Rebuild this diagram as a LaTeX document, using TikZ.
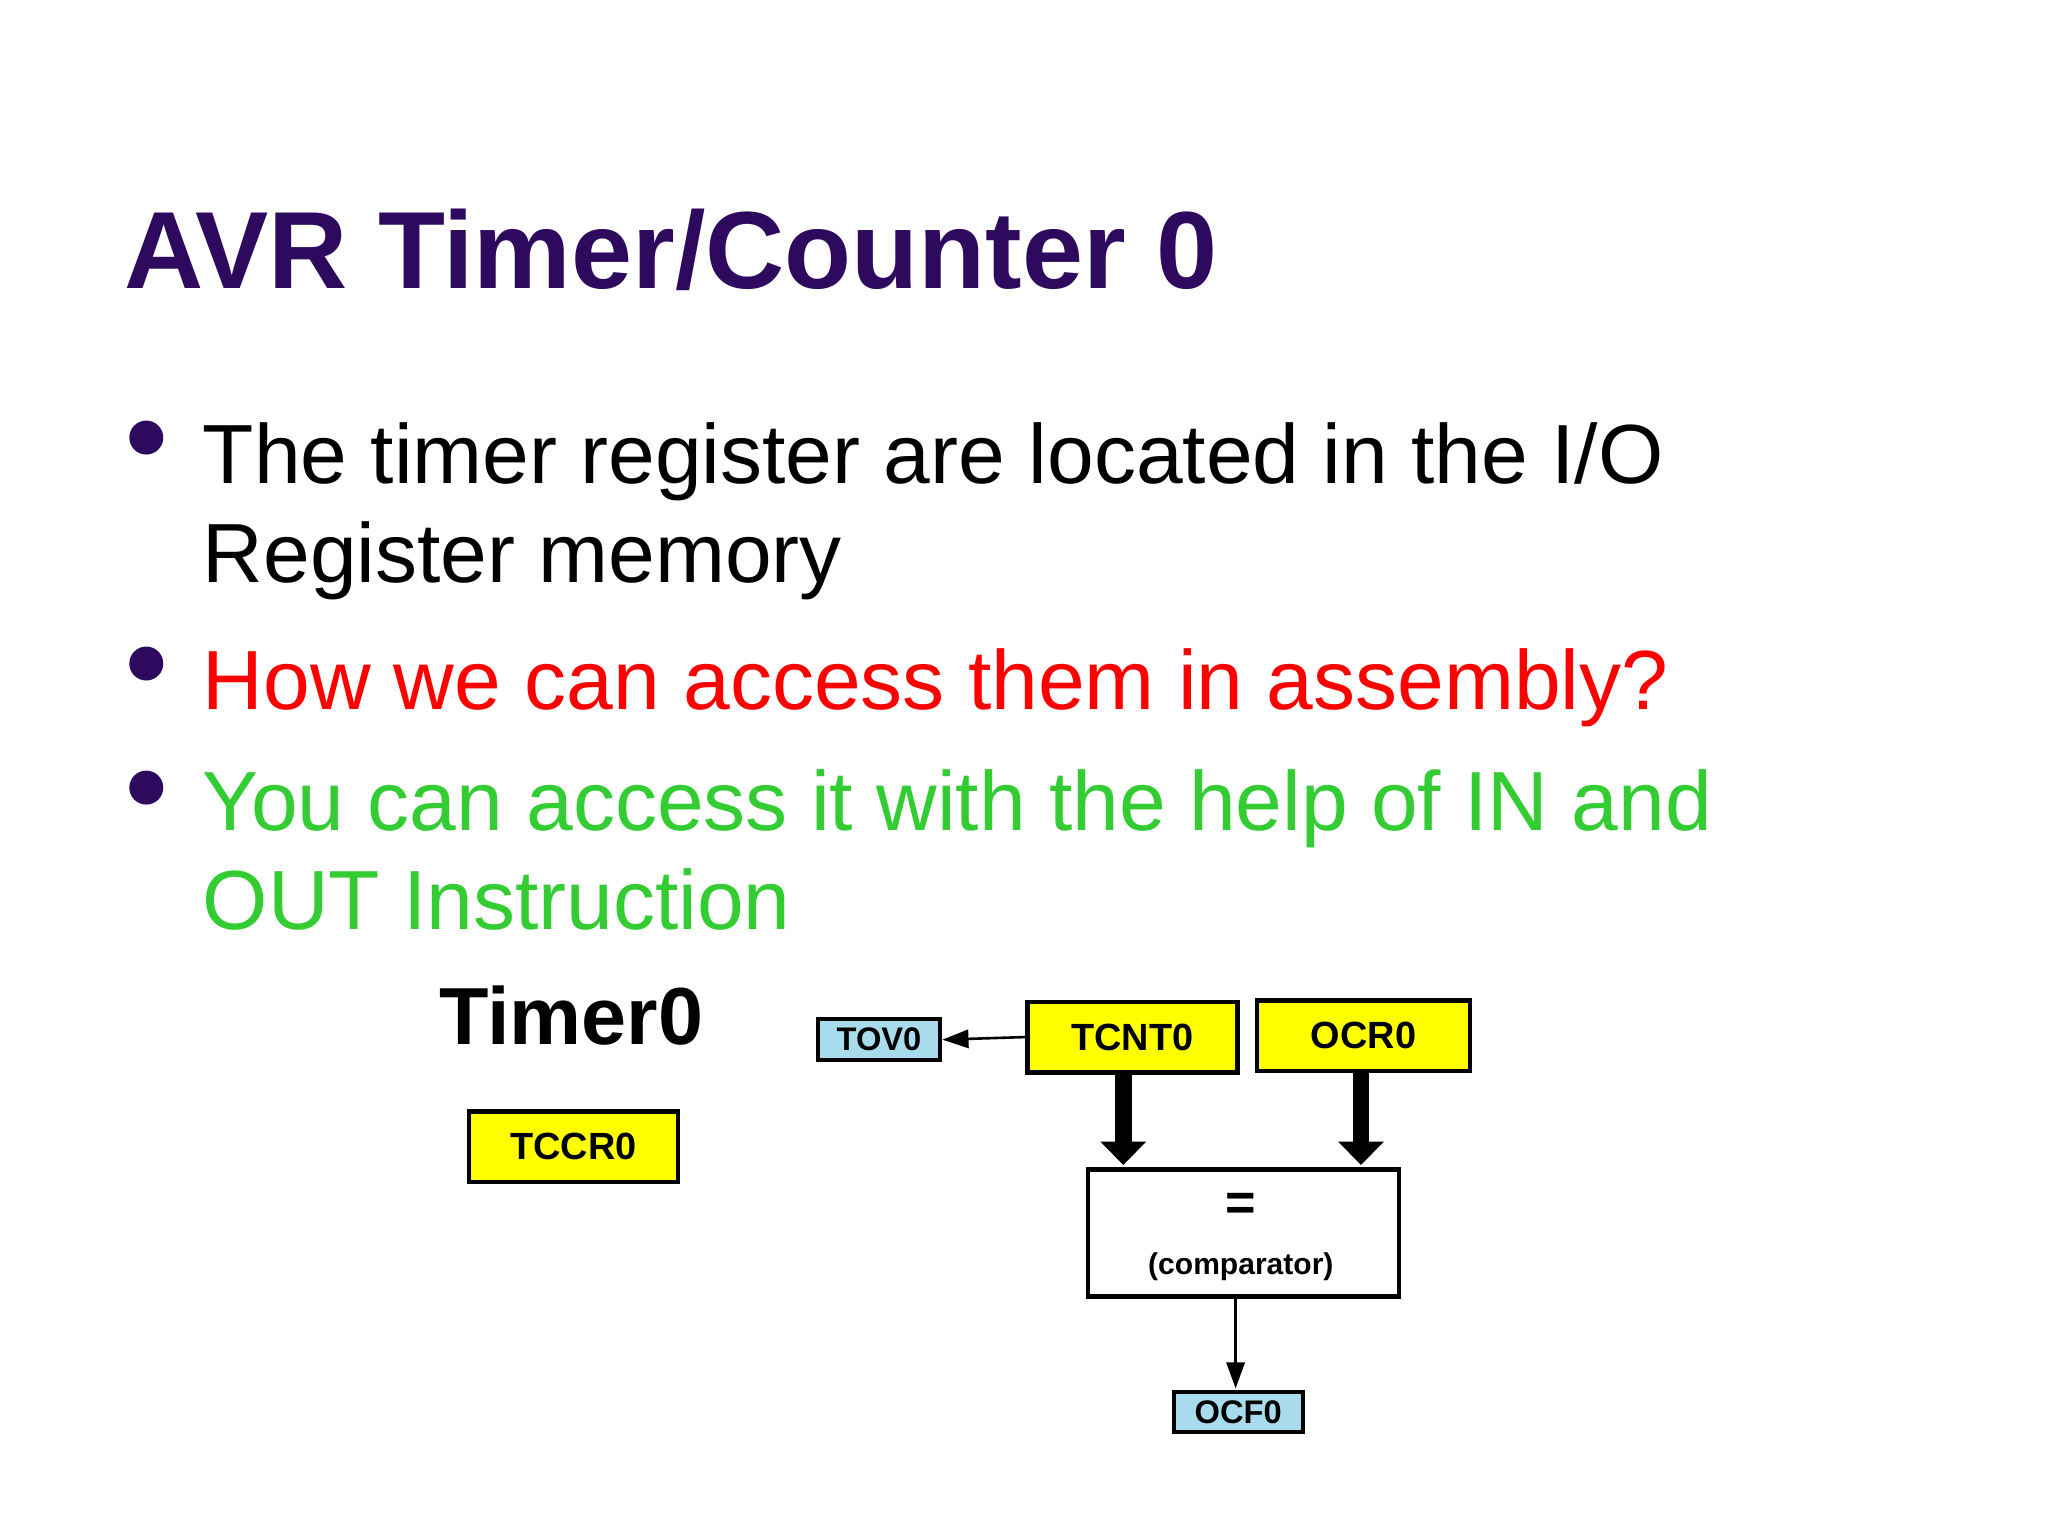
\documentclass[tikz,border=0pt]{standalone}
\usepackage{fontspec}
\setmainfont{Liberation Sans}
\usetikzlibrary{arrows.meta}
\definecolor{titlec}{HTML}{2E0A5E}
\definecolor{redc}{HTML}{FF0000}
\definecolor{greenc}{HTML}{33CC33}
\definecolor{regy}{HTML}{FFFF00}
\definecolor{regb}{HTML}{A8DCEC}
\begin{document}
\begin{tikzpicture}[x=1pt,y=-1pt,
  reg/.style={draw=black,line width=3.5pt,fill=regy,inner sep=0pt,font=\bfseries\fontsize{29}{29}\selectfont},
  flag/.style={draw=black,line width=3pt,fill=regb,inner sep=0pt,font=\bfseries\fontsize{25}{25}\selectfont},
  btxt/.style={anchor=base west,inner sep=0pt,font=\fontsize{64.3}{64}\selectfont},
  dot/.style={circle,fill=titlec,inner sep=0pt,minimum size=26pt},
  fat/.style={line width=13pt,-{Triangle[width=34pt,length=18pt]}},
  thin/.style={line width=2pt,-{Triangle[width=14pt,length=20pt]}}]
\useasboundingbox (0,0) rectangle (1568,1176);
\fill[white] (0,0) rectangle (1568,1176);
\node[anchor=base west,inner sep=0pt,text=titlec,font=\bfseries\fontsize{84}{84}\selectfont] (title) at (95,221) {AVR Timer/Counter 0};
\node[dot] (d1) at (112,335) {};
\node[btxt] (l1) at (155,370) {The timer register are located in the I/O};
\node[btxt] (l2) at (155,446) {Register memory};
\node[dot] (d2) at (112,508) {};
\node[btxt,text=redc] (l3) at (155,543) {How we can access them in assembly?};
\node[dot] (d3) at (112,603) {};
\node[btxt,text=greenc] (l4) at (155,636) {You can access it with the help of IN and};
\node[btxt,text=greenc] (l5) at (155,712) {OUT Instruction};
\node[anchor=base west,inner sep=0pt,font=\bfseries\fontsize{62}{62}\selectfont] (t0) at (336,800) {Timer0};
\node[reg,minimum width=160pt,minimum height=54pt] (tccr) at (439,878) {TCCR0};
\node[flag,minimum width=94pt,minimum height=31pt] (tov) at (673,796) {TOV0};
\node[reg,minimum width=161pt,minimum height=54pt] (tcnt) at (867,794) {TCNT0};
\node[reg,minimum width=163pt,minimum height=54pt] (ocr) at (1044,793) {OCR0};
\node[draw=black,line width=3.5pt,fill=white,minimum width=238pt,minimum height=97pt] (cmp) at (952,944) {};
\node[font=\bfseries\fontsize{40}{40}\selectfont] (eq) at (950,924) {=};
\node[font=\bfseries\fontsize{23}{23}\selectfont] (ct) at (950,970) {(comparator)};
\node[flag,minimum width=99pt,minimum height=31pt] (ocf) at (948,1081) {OCF0};
\draw[thin] (tcnt.west) -- (tov.east);
\draw[fat] (tcnt.south -| 860,0) -- (860,892);
\draw[fat] (ocr.south -| 1042,0) -- (1042,892);
\draw[thin] (cmp.south -| 946,0) -- (946,1063);
\end{tikzpicture}
\end{document}
